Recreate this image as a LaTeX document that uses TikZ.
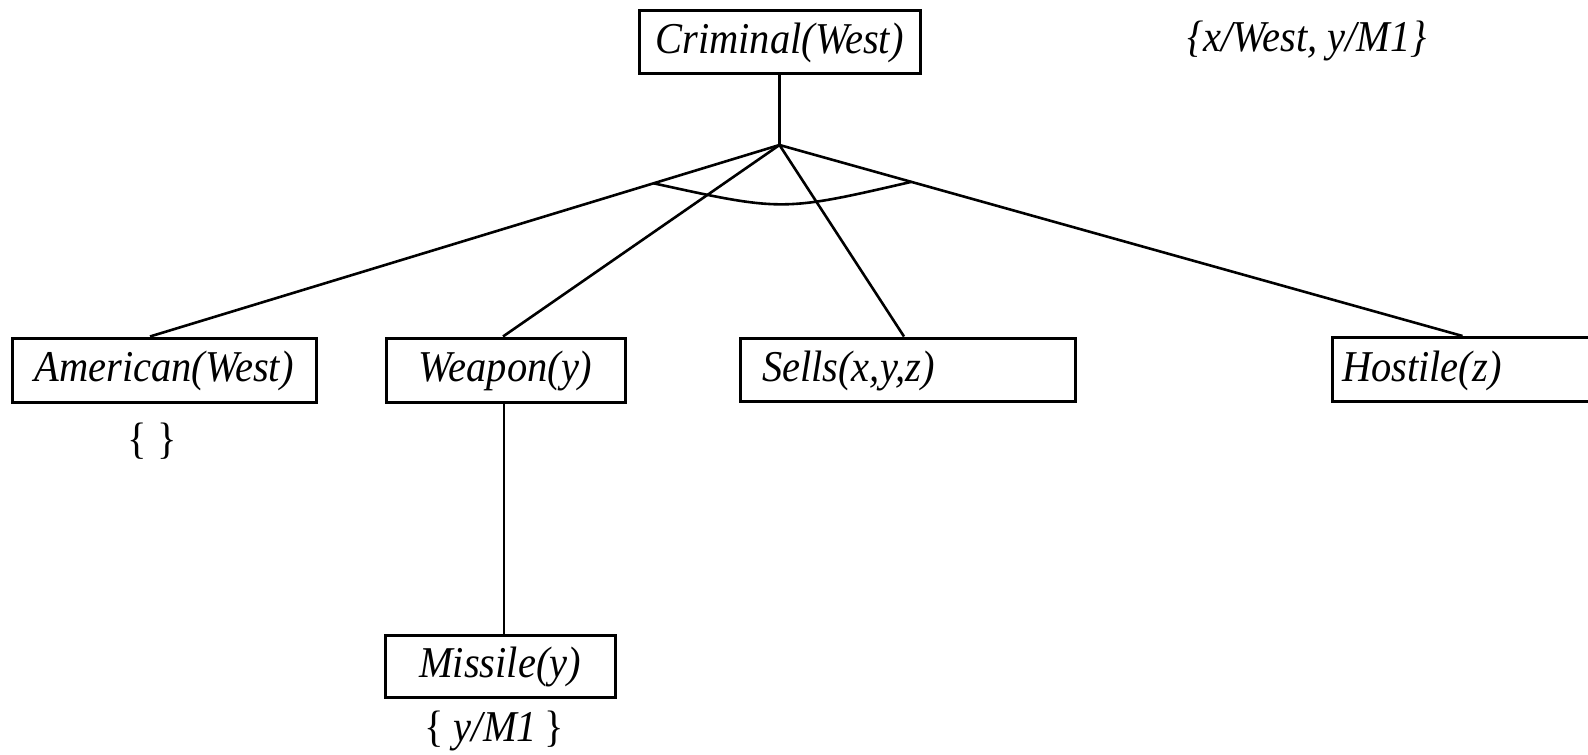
\documentclass[tikz,border=0pt]{standalone}
\usepackage{fontspec}
\setmainfont[FakeStretch=0.92]{Liberation Serif}
\usetikzlibrary{calc}
\tikzset{
  box/.style={draw, line width=3pt, inner sep=0pt, text height=32pt, text depth=9pt, font=\fontsize{44}{50}\selectfont\itshape},
  lbl/.style={inner sep=0pt, font=\fontsize{44}{50}\selectfont},
  conn/.style={line width=2.6pt}
}
\begin{document}
\begin{tikzpicture}[x=1pt,y=-1pt]
\useasboundingbox (0,0) rectangle (1588,755);
\clip (0,0) rectangle (1588,755);
\node[box, minimum width=281, minimum height=63] (crim) at (779.5,41.5) {Criminal(West)};
\node[box, minimum width=304, minimum height=64] (amer) at (164,370) {American(West)};
\node[box, minimum width=239, minimum height=64] (weap) at (505.5,370) {Weapon(y)};
\node[box, minimum height=63, text width=291, inner xsep=22pt, align=left] (sells) at (907.5,369.5) {Sells(x,y,z)};
\node[box, minimum height=64, text width=268, inner xsep=10pt, align=left] (host) at (1476,369.5) {Hostile(z)};
\node[box, minimum width=230, minimum height=62] (miss) at (500,666) {Missile(y)};
\node[lbl] (amsub) at (152,441) {\{ \}};
\node[lbl] (misub) at (494,731) {\{ \textit{y/M1}\,\}};
\node[lbl, font=\fontsize{44}{50}\selectfont\itshape] (subst) at (1307,41) {\{x/West, y/M1\}};
\coordinate (j) at (crim.south |- 0,145);
\coordinate (at) at ([xshift=-14pt]amer.north);
\coordinate (wt) at ([xshift=-2.5pt]weap.north);
\coordinate (st) at ([xshift=-3.5pt]sells.north);
\coordinate (ht) at ([xshift=132pt]host.north west);
\draw[conn] (crim.south) -- (j);
\draw[conn] (j) -- (at);
\draw[conn] (j) -- (wt);
\draw[conn] (j) -- (st);
\draw[conn] (j) -- (ht);
\draw[conn] ([xshift=-1.5pt]weap.south) -- ([xshift=-1.5pt]weap.south |- miss.north);
\path (j) -- (at) coordinate[pos=0.2] (arcL);
\path (j) -- (ht) coordinate[pos=0.193] (arcR);
\draw[conn] (arcL) .. controls ($(arcL)!0.5!(arcR)+(0,29)$) .. (arcR);
\end{tikzpicture}
\end{document}
